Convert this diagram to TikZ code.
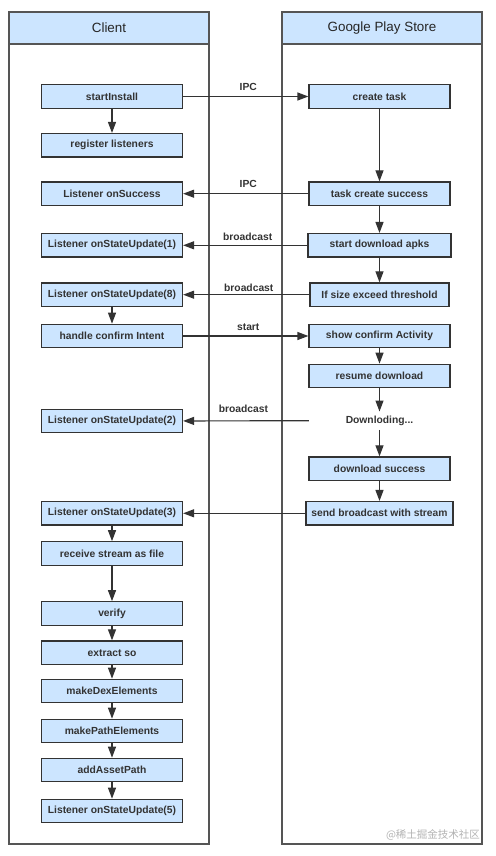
\documentclass[tikz,border=0pt]{standalone}
\usepackage{fontspec}
\setmainfont{Liberation Sans}
\newfontfamily\cjk{Noto Sans CJK SC}
\usetikzlibrary{arrows.meta}
\definecolor{boxfill}{HTML}{CCE5FF}
\definecolor{edgec}{HTML}{333333}
\definecolor{lanec}{HTML}{555555}
\begin{document}
\begin{tikzpicture}[x=1pt,y=-1pt,
  stepbox/.style={draw=edgec, line width=1.2pt, fill=boxfill, minimum width=141pt, minimum height=23.5pt, inner sep=0pt, font=\fontsize{10.3}{12}\selectfont\bfseries, text=edgec},
  plain/.style={minimum width=141pt, minimum height=18pt, inner sep=0pt, font=\fontsize{10.3}{12}\selectfont\bfseries, text=edgec},
  lanehead/.style={draw=lanec, line width=1.5pt, fill=boxfill, minimum width=200pt, minimum height=32pt, inner sep=0pt, font=\fontsize{13.4}{16}\selectfont, text=black!85},
  lane/.style={draw=lanec, line width=1.5pt},
  flow/.style={draw=edgec, line width=1.2pt, -{Triangle[length=11pt,width=8pt]}},
  lbl/.style={font=\fontsize{10.3}{12}\selectfont\bfseries, text=edgec, inner sep=0pt},
  wm/.style={font=\cjk\fontsize{10.5}{12}\selectfont, text=black!30, inner sep=0pt}
]
\useasboundingbox (0,0) rectangle (495,856);
% lanes
\draw[lane] (9,12) rectangle (209,844);
\draw[lane] (282,12) rectangle (482,844);
\node[lanehead] (hc) at (109,28) {Client};
\node[lanehead] (hg) at (382,28) {Google Play Store};

% client column
\node[stepbox] (si) at (112,96.5) {startInstall};
\node[stepbox] (rl) at (112,145.3) {register listeners};
\node[stepbox] (os) at (112,193.7) {Listener onSuccess};
\node[stepbox] (u1) at (112,245.3) {Listener onStateUpdate(1)};
\node[stepbox] (u8) at (112,294.7) {Listener onStateUpdate(8)};
\node[stepbox] (hi) at (112,336) {handle confirm Intent};
\node[stepbox] (u2) at (112,421) {Listener onStateUpdate(2)};
\node[stepbox] (u3) at (112,513.3) {Listener onStateUpdate(3)};
\node[stepbox] (rs) at (112,553.5) {receive stream as file};
\node[stepbox] (vf) at (112,613.5) {verify};
\node[stepbox] (ex) at (112,652.7) {extract so};
\node[stepbox] (md) at (112,691) {makeDexElements};
\node[stepbox] (mp) at (112,731) {makePathElements};
\node[stepbox] (aa) at (112,770) {addAssetPath};
\node[stepbox] (u5) at (112,811) {Listener onStateUpdate(5)};

% store column
\node[stepbox] (ct) at (379.5,96.5) {create task};
\node[stepbox] (cs) at (379.5,193.7) {task create success};
\node[stepbox, minimum width=143pt] (sd) at (379.5,245.3) {start download apks};
\node[stepbox, minimum width=139pt] (ifs) at (379.5,294.7) {If size exceed threshold};
\node[stepbox] (sc) at (379.5,336) {show confirm Activity};
\node[stepbox] (rd) at (379.5,376) {resume download};
\node[plain] (dl) at (379.5,420.7) {Downloding...};
\node[stepbox] (ds) at (379.5,468.7) {download success};
\node[stepbox, minimum width=147pt] (sb) at (379.5,513.3) {send broadcast with stream};

% client flow
\draw[flow] (si) -- (rl);
\draw[flow] (u8) -- (hi);
\draw[flow] (u3) -- (rs);
\draw[flow] (rs) -- (vf);
\draw[flow] (vf) -- (ex);
\draw[flow] (ex) -- (md);
\draw[flow] (md) -- (mp);
\draw[flow] (mp) -- (aa);
\draw[flow] (aa) -- (u5);

% store flow
\draw[flow] (ct) -- (cs);
\draw[flow] (cs) -- (sd);
\draw[flow] (sd) -- (ifs);
\draw[flow] (sc) -- (rd);
\draw[flow] (rd) -- (dl);
\draw[flow] (dl) -- (ds);
\draw[flow] (ds) -- (sb);

% cross-lane messages
\draw[flow] (si) -- node[lbl, above=5pt, pos=0.52] {IPC} (ct);
\draw[flow] (cs) -- node[lbl, above=5pt, pos=0.48] {IPC} (os);
\draw[flow] (sd) -- node[lbl, above=4.5pt, pos=0.48] {broadcast} (u1);
\draw[flow] (ifs) -- node[lbl, above=3pt, pos=0.48] {broadcast} (u8);
\draw[flow] (hi) -- node[lbl, above=4.5pt, pos=0.52] {start} (sc);
\draw[flow] (dl) -- node[lbl, above=7.5pt, pos=0.52] {broadcast} (u2);
\draw[flow] (sb) -- (u3);

% watermark
\node[wm] (wmk) at (433,835) {@稀土掘金技术社区};
\end{tikzpicture}
\end{document}
